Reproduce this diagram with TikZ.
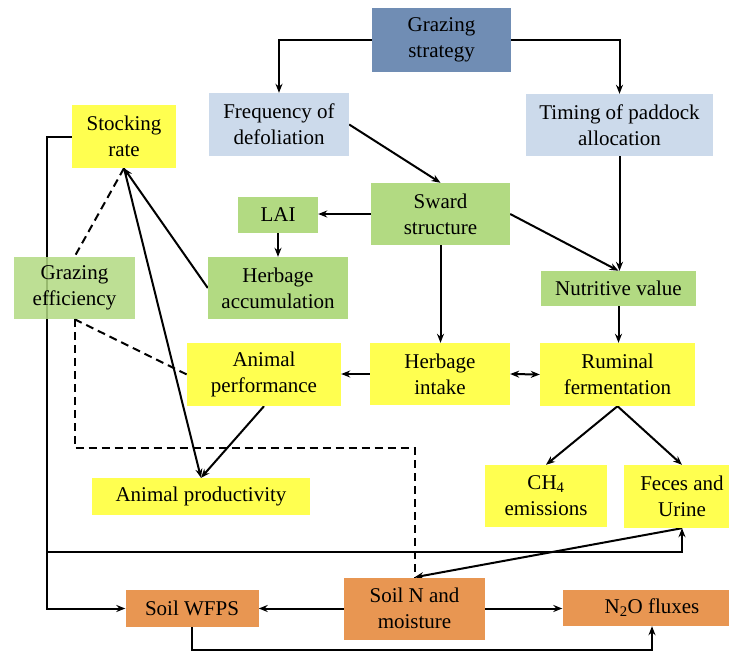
\documentclass[tikz,border=0pt]{standalone}
\usepackage{fontspec}
\setmainfont{Liberation Serif}
\usetikzlibrary{arrows.meta,backgrounds}
\definecolor{gsblue}{RGB}{112,141,180}
\definecolor{lblue}{RGB}{204,218,235}
\definecolor{yel}{RGB}{255,255,80}
\definecolor{grn}{RGB}{178,218,130}
\definecolor{org}{RGB}{232,150,82}
\begin{document}
\begin{tikzpicture}[x=1pt,y=-1pt,
  box/.style={rectangle, inner sep=0pt, align=center, font=\fontsize{21}{26}\selectfont, text=black},
  arr/.style={line width=2pt, -{Stealth[length=9pt,width=7pt]}},
  dsh/.style={line width=2pt, dash pattern=on 8pt off 5pt}]
\clip (0,0) rectangle (729,653);
% nodes
\node[box, fill=gsblue, minimum width=139pt, minimum height=64pt] (gs) at (441.5,40) {Grazing\\strategy};
\node[box, fill=lblue, minimum width=140pt, minimum height=63pt] (fd) at (279,124.5) {Frequency of\\defoliation};
\node[box, fill=lblue, minimum width=187pt, minimum height=62pt] (tp) at (619.5,125) {Timing of paddock\\allocation};
\node[box, fill=yel, minimum width=104pt, minimum height=63pt] (sr) at (124,136.5) {Stocking\\rate};
\node[box, fill=grn, minimum width=80pt, minimum height=36pt] (lai) at (278,215) {LAI};
\node[box, fill=grn, minimum width=139pt, minimum height=62pt] (ss) at (440.5,214) {Sward\\structure};
\node[box, fill=grn, minimum width=140pt, minimum height=62pt] (ha) at (278,288) {Herbage\\accumulation};
\node[box, fill=grn, fill opacity=0.85, text opacity=1, minimum width=121pt, minimum height=62pt] (ge) at (74.5,288) {Grazing\\efficiency};
\node[box, fill=grn, minimum width=155pt, minimum height=35pt] (nv) at (618.5,288.5) {Nutritive value};
\node[box, fill=yel, minimum width=154pt, minimum height=63pt] (ap) at (264,374.5) {Animal\\performance};
\node[box, fill=yel, minimum width=140pt, minimum height=62pt] (hi) at (440,374) {Herbage\\intake};
\node[box, fill=yel, minimum width=155pt, minimum height=63pt] (rf) at (617.5,374.5) {Ruminal\\fermentation};
\node[box, fill=yel, minimum width=218pt, minimum height=37pt] (prod) at (201,496.5) {Animal productivity};
\node[box, fill=yel, minimum width=122pt, minimum height=62pt] (ch4) at (546,496) {CH\textsubscript{4}\\emissions};
\node[box, fill=yel, minimum width=116pt, minimum height=63pt] (fu) at (682,496.5) {Feces and\\Urine};
\node[box, fill=org, minimum width=141pt, minimum height=62pt] (sn) at (414.5,608.5) {Soil N and\\moisture};
\node[box, fill=org, minimum width=133pt, minimum height=37pt] (wfps) at (192,608.5) {Soil WFPS};
\node[box, fill=org, minimum width=179pt, minimum height=36pt] (n2o) at (652,608) {N\textsubscript{2}O fluxes};
\coordinate (lx) at (47,0);
\coordinate (ly) at (0,552);
\coordinate (ly2) at (0,650);
\coordinate (dy) at (0,448);
\begin{pgfonlayer}{background}
\fill[white] (0,0) rectangle (729,653);
\draw[arr] (gs.west) -| (fd.north);
\draw[arr] (gs.east) -| (tp.north);
\draw[arr] (fd.east) -- (ss.north);
\draw[arr] (ss.west) -- (ss.west -| lai.east);
\draw[arr] (lai) -- (ha);
\draw[arr] (ha.west) -- (sr.south);
\draw[arr] (sr.south) -- (prod.north);
\draw[dsh] (sr.south) -- (ge.north);
\draw[dsh] (ge.south) -- (ap.west);
\draw[dsh] (ge.south) -- (ge.south |- dy) -| (sn.north);
\draw[arr] (ap.south) -- (prod.north);
\draw[arr] (ss.south) -- (ss.south |- hi.north);
\draw[arr] (ss.east) -- (nv.north);
\draw[arr] (tp.south) -- (tp.south |- nv.north);
\draw[arr] (nv.south) -- (nv.south |- rf.north);
\draw[arr] (hi.west) -- (hi.west -| ap.east);
\draw[line width=2pt, {Stealth[length=9pt,width=7pt]}-{Stealth[length=9pt,width=7pt]}] (hi.east) -- (rf.west);
\draw[arr] (rf.south) -- (ch4.north);
\draw[arr] (rf.south) -- (fu.north);
\draw[arr] (fu.south) -- (sn.north);
\draw[arr] (sr.west) -| (lx |- wfps.west) -- (wfps.west);
\draw[arr] (lx |- ly) -| (fu.south);
\draw[arr] (sn.west) -- (sn.west -| wfps.east);
\draw[arr] (sn.east) -- (sn.east -| n2o.west);
\draw[arr] (wfps.south) -- (wfps.south |- ly2) -| (n2o.south);
\end{pgfonlayer}
\end{tikzpicture}
\end{document}
